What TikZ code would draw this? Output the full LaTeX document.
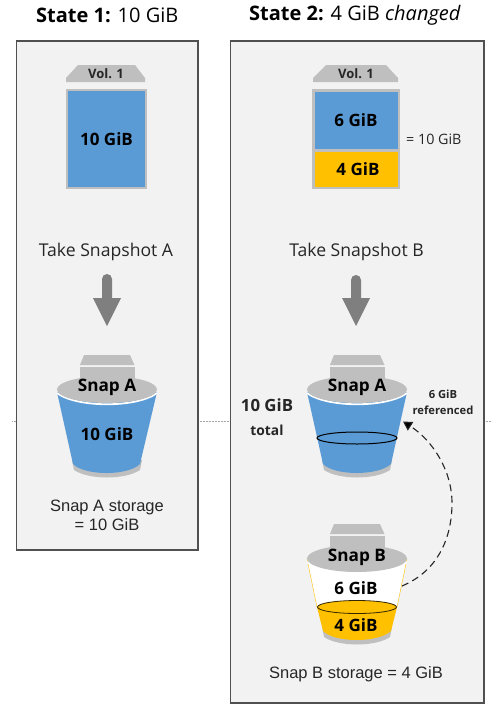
\documentclass[tikz,border=0pt]{standalone}
\usepackage{fontspec}
\setmainfont{Open Sans}
\newfontfamily\arialfont{Liberation Sans}
\usetikzlibrary{arrows.meta}
\definecolor{panelfill}{HTML}{F2F2F2}
\definecolor{panelline}{HTML}{505050}
\definecolor{volblue}{HTML}{5B9BD5}
\definecolor{volyellow}{HTML}{FFC000}
\definecolor{lightgrey}{HTML}{BFBFBF}
\definecolor{arrowgrey}{HTML}{7F7F7F}
\definecolor{inktext}{HTML}{262626}
\tikzset{
  x=1pt,y=-1pt,
  panel/.style={draw=panelline,line width=1.1pt,fill=panelfill},
  tabshape/.style={fill=lightgrey,draw=none},
  vollabel/.style={font=\fontsize{17}{20}\selectfont\bfseries,text=black,inner sep=0pt},
  tablabel/.style={font=\fontsize{13}{16}\selectfont\bfseries,text=inktext,inner sep=0pt},
  snaplabel/.style={font=\fontsize{17.2}{20}\selectfont\bfseries,text=black,inner sep=0pt},
  titlelabel/.style={font=\fontsize{20}{24}\selectfont,text=black,inner sep=0pt},
  takelabel/.style={font=\fontsize{17.6}{20}\selectfont,text=inktext,inner sep=0pt},
  storelabel/.style={font=\arialfont\fontsize{16.5}{19}\selectfont,text=inktext,inner sep=0pt,align=center},
  sidelabel/.style={font=\fontsize{13.8}{16}\selectfont\bfseries,text=inktext,inner sep=0pt,align=center},
  reflabel/.style={font=\fontsize{11.2}{16}\selectfont\bfseries,text=inktext,inner sep=0pt,align=center},
  dotline/.style={draw=gray!70,line width=0.5pt,densely dotted},
  refarrow/.style={draw=inktext,line width=1.1pt,dash pattern=on 7pt off 4.5pt,-{Triangle[length=9pt,width=10pt,fill=black]}}
}
% #1 centre x, #2 y shift, #3 bottom shift (relative)
\newcommand{\bucketbase}[3]{%
  \begin{scope}[shift={(#1,#2)}]
    \fill[lightgrey] (-27,367) rectangle (27.5,385);
    \fill[lightgrey] (-27,365) -- (-23,355) -- (23,355) -- (27.5,365) -- cycle;
    \fill[lightgrey] (-35,#3+460) -- (-33,#3+470) .. controls (-18,#3+480) and (18,#3+480) .. (33,#3+470) -- (35,#3+460) -- cycle;
  \end{scope}}
\newcommand{\bucketcap}[1]{%
  \begin{scope}[shift={(#1)}]
    \draw[white,line width=1.8pt] (-50,393) .. controls (-30,408) and (30,408) .. (50,393);
    \fill[lightgrey] (0,389.5) ellipse [x radius=50,y radius=13.5];
  \end{scope}}
\begin{document}
\begin{tikzpicture}
\useasboundingbox (0,0) rectangle (492,710);
\fill[white] (0,0) rectangle (492,710);

% dotted divider
\coordinate (dotA) at (12,421);
\coordinate (dotB) at (16,421);
\coordinate (dotC) at (198,421);
\coordinate (dotD) at (230,421);
\coordinate (dotE) at (484,421);
\coordinate (dotF) at (492,421);
\draw[dotline] (dotA) -- (dotB);
\draw[dotline] (dotC) -- (dotD);
\draw[dotline] (dotE) -- (dotF);

% panels
\draw[panel] (16.5,41) rectangle (198,550);
\draw[panel] (230.5,41) rectangle (484,703);

% titles
\node[titlelabel,anchor=west] (title1) at (36,15) {\textbf{State 1:} 10 GiB};
\node[titlelabel,anchor=west] (title2) at (249,15) {\textbf{State 2:} 4 GiB \textit{changed}};

% volume, state 1
\fill[tabshape] (66,82) -- (66,78) -- (78,65) -- (135,65) -- (145,78) -- (145,82) -- cycle;
\node[tablabel] (vol1tab) at (106,74) {Vol. 1};
\fill[volblue,draw=lightgrey,line width=2.5pt] (67.2,90.2) rectangle (145.8,187.8);
\node[vollabel] (vol1size) at (106.5,139) {10 GiB};

% volume, state 2
\fill[tabshape] (313,82) -- (313,78) -- (326,65) -- (386,65) -- (398,78) -- (398,82) -- cycle;
\node[tablabel] (vol2tab) at (356,74) {Vol. 1};
\fill[lightgrey] (312,89) rectangle (400,189);
\fill[volblue] (314.5,91.5) rectangle (397.5,149);
\fill[volyellow] (314.5,152) rectangle (397.5,186.5);
\node[vollabel] (vol2six) at (356,120) {6 GiB};
\node[vollabel] (vol2four) at (358,169) {4 GiB};
\node[font=\fontsize{14.3}{16}\selectfont,text=inktext,inner sep=0pt,anchor=west] (vol2eq) at (406,139) {= 10 GiB};

% take labels
\node[takelabel] (takeA) at (106,251.5) {Take Snapshot A};
\node[takelabel] (takeB) at (356.5,251.5) {Take Snapshot B};

% block arrows
\fill[arrowgrey] (102,279) arc[start angle=180,delta angle=180,radius=5] -- (112,298) -- (121,298) -- (107,326) -- (93,298) -- (102,298) -- cycle;
\fill[arrowgrey] (351,280) arc[start angle=180,delta angle=180,radius=5] -- (361,298) -- (370,298) -- (356,326) -- (342,298) -- (351,298) -- cycle;

% bucket, state 1
\bucketbase{107}{0}{0}
\fill[volblue] (57,392) -- (73,464) .. controls (85,476) and (128,476) .. (140,464) -- (157,392) -- cycle;
\bucketcap{107,0}
\node[snaplabel] (snapA1) at (107,387) {Snap A};
\node[vollabel] (snapA1size) at (107,434) {10 GiB};
\node[storelabel] (storeA) at (107,515.5) {Snap A storage\\= 10 GiB};

% bucket A, state 2
\bucketbase{357}{0}{0}
\fill[volblue] (307,392) -- (323,464) .. controls (335,476) and (378,476) .. (391,464) -- (407,392) -- cycle;
\bucketcap{357,0}
\draw[black,line width=1pt] (357,438) ellipse [x radius=40,y radius=6];
\node[snaplabel] (snapA2) at (357,387) {Snap A};
\node[sidelabel,font=\fontsize{16.8}{20}\selectfont\bfseries] (total10) at (267,405) {10 GiB};
\node[sidelabel] (totalword) at (267,430) {total};
\node[reflabel] (refd) at (443,402) {6 GiB\\referenced};

% bucket B, state 2
\bucketbase{357}{169}{-2}
\fill[white] (307,559) -- (317,607) -- (397,607) -- (407,559) -- cycle;
\draw[volyellow,line width=0.4pt] (307,559) -- (317,607) (407,559) -- (397,607);
\fill[volyellow] (317,607) -- (323,631) .. controls (335,643) and (378,643) .. (391,631) -- (397,607) -- cycle;
\draw[black!80!volyellow,line width=0.8pt,fill=volyellow] (357,607) ellipse [x radius=39.5,y radius=6.5];
\bucketcap{357,169}
\node[snaplabel] (snapB) at (357,557) {Snap B};
\node[vollabel] (snapBsix) at (356,588) {6 GiB};
\node[vollabel] (snapBfour) at (356,625) {4 GiB};
\node[storelabel] (storeB) at (356,674) {Snap B storage = 4 GiB};

% reference connector
\coordinate (refstart) at (402,586);
\coordinate (refend) at (403,421.5);
\draw[refarrow] (refstart) .. controls (440,570) and (452,535) .. (452,503) .. controls (452,470) and (432,440) .. (refend);
\end{tikzpicture}
\end{document}
